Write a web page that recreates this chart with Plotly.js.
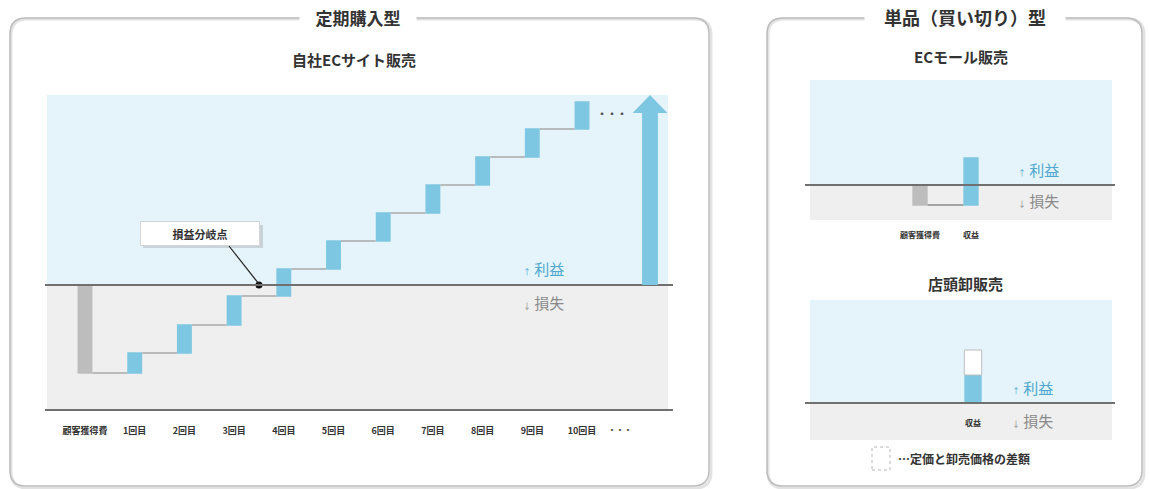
<!DOCTYPE html>
<html><head><meta charset="utf-8">
<script src="https://cdn.plot.ly/plotly-3.0.1.min.js"></script>
<style>html,body{margin:0;padding:0;background:#fff;overflow:hidden}#chart{width:1150px;height:489px}</style>
</head><body><div id="chart"></div>
<script>
// ---------- data ----------
const subCategories = ['顧客獲得費','1回目','2回目','3回目','4回目','5回目','6回目','7回目','8回目','9回目','10回目'];
const subValues = [-8.8, 2.0, 2.8, 2.9, 2.7, 2.8, 2.8, 2.8, 2.8, 2.8, 2.7];
const breakEvenX = 3.5;
const mallCategories = ['顧客獲得費','収益'];
const mallValues = [-2.0, 4.7];
const storeCategories = ['収益'];
const storeRevenue = [2.8];
const storeDiscount = [2.5];

// ---------- helpers ----------
const W = 1150, H = 489;
const FONT = '"Noto Sans CJK JP", "Noto Sans", sans-serif';
const px = v => v / W;
const py = v => 1 - v / H;
const BLUE = '#7dc7e2', BLUEBG = '#e5f4fa', GRAYBG = '#efefef', GRAYBAR = '#bdbdbd';
const LINE = '#707070', TXT = '#333333', PROFIT = '#4ea8cf', LOSS = '#8a8a8a';

function roundRect(x0, y0, x1, y1, r) {
  const X = v => px(v).toFixed(5), Y = v => py(v).toFixed(5);
  return `M ${X(x0 + r)},${Y(y0)} L ${X(x1 - r)},${Y(y0)} Q ${X(x1)},${Y(y0)} ${X(x1)},${Y(y0 + r)} ` +
    `L ${X(x1)},${Y(y1 - r)} Q ${X(x1)},${Y(y1)} ${X(x1 - r)},${Y(y1)} L ${X(x0 + r)},${Y(y1)} ` +
    `Q ${X(x0)},${Y(y1)} ${X(x0)},${Y(y1 - r)} L ${X(x0)},${Y(y0 + r)} Q ${X(x0)},${Y(y0)} ${X(x0 + r)},${Y(y0)} Z`;
}

// axis geometry (pixels)
const A1 = {x0: 47, x1: 668, y0: 95, y1: 410, c0: 85, step: 49.7, zero: 285};
const A2 = {x0: 810, x1: 1112, y0: 80, y1: 220, c0: 920, step: 51, zero: 185};
const A3 = {x0: 810, x1: 1112, y0: 300, y1: 440, c0: 973, step: 51, zero: 403};
const UNIT = 10; // pixels per data unit
const xr = a => [(a.x0 - a.c0) / a.step, (a.x1 - a.c0) / a.step];
const yr = a => [-(a.y1 - a.zero) / UNIT, (a.zero - a.y0) / UNIT];

const traces = [
  {
    type: 'waterfall', xaxis: 'x', yaxis: 'y',
    x: subCategories.map((_, i) => i), y: subValues,
    measure: subValues.map(() => 'relative'),
    width: 0.3, textinfo: 'none', hoverinfo: 'skip',
    increasing: {marker: {color: BLUE, line: {width: 0}}},
    decreasing: {marker: {color: GRAYBAR, line: {width: 0}}},
    connector: {line: {color: '#a9a9a9', width: 1.5}}
  },
  {
    type: 'waterfall', xaxis: 'x2', yaxis: 'y2',
    x: mallCategories.map((_, i) => i), y: mallValues,
    measure: mallValues.map(() => 'relative'),
    width: 0.3, textinfo: 'none', hoverinfo: 'skip',
    increasing: {marker: {color: BLUE, line: {width: 0}}},
    decreasing: {marker: {color: GRAYBAR, line: {width: 0}}},
    connector: {line: {color: '#8a8a8a', width: 1.5}}
  },
  {
    type: 'bar', xaxis: 'x3', yaxis: 'y3',
    x: storeCategories.map((_, i) => i), y: storeRevenue, base: storeRevenue.map(() => 0),
    width: 0.34, marker: {color: BLUE, line: {width: 0}}, hoverinfo: 'skip'
  },
  {
    type: 'bar', xaxis: 'x3', yaxis: 'y3',
    x: storeCategories.map((_, i) => i), y: storeDiscount, base: storeRevenue,
    width: 0.34, marker: {color: '#ffffff', line: {color: '#bdbdbd', width: 1}}, hoverinfo: 'skip'
  },
  {
    type: 'scatter', mode: 'markers', xaxis: 'x', yaxis: 'y',
    x: [breakEvenX], y: [0], marker: {color: '#111', size: 7}, hoverinfo: 'skip'
  }
];

const baseX = {showgrid: false, zeroline: false, showline: false, fixedrange: true};
const baseY = {showgrid: false, zeroline: false, showline: false, showticklabels: false, fixedrange: true};

function bgShapes(xa, ya, a) {
  return [
    {type: 'rect', xref: xa + ' domain', yref: ya, x0: 0, x1: 1, y0: 0, y1: yr(a)[1], fillcolor: BLUEBG, line: {width: 0}, layer: 'below'},
    {type: 'rect', xref: xa + ' domain', yref: ya, x0: 0, x1: 1, y0: yr(a)[0], y1: 0, fillcolor: GRAYBG, line: {width: 0}, layer: 'below'}
  ];
}

// growth arrow at right of the subscription chart
const arrowX = (650 - A1.c0) / A1.step, arrowTop = yr(A1)[1];
const arrowPath = `M ${arrowX - 0.16},0 L ${arrowX - 0.16},${arrowTop - 1.8} L ${arrowX - 0.35},${arrowTop - 1.8} ` +
  `L ${arrowX},${arrowTop} L ${arrowX + 0.35},${arrowTop - 1.8} L ${arrowX + 0.16},${arrowTop - 1.8} L ${arrowX + 0.16},0 Z`;

const shapes = [
  // panel shadows + borders
  {type: 'path', xref: 'paper', yref: 'paper', path: roundRect(11, 19, 711, 488, 16), line: {color: '#e2e2e2', width: 3}},
  {type: 'path', xref: 'paper', yref: 'paper', path: roundRect(10, 18, 709, 486, 16), line: {color: '#bdbdbd', width: 1.5}},
  {type: 'path', xref: 'paper', yref: 'paper', path: roundRect(768, 19, 1144, 488, 16), line: {color: '#e2e2e2', width: 3}},
  {type: 'path', xref: 'paper', yref: 'paper', path: roundRect(767, 18, 1142, 486, 16), line: {color: '#bdbdbd', width: 1.5}},
  ...bgShapes('x', 'y', A1), ...bgShapes('x2', 'y2', A2), ...bgShapes('x3', 'y3', A3),
  // zero lines and bottom axis line
  {type: 'line', xref: 'paper', yref: 'y', x0: px(45), x1: px(673), y0: 0, y1: 0, line: {color: LINE, width: 2}},
  {type: 'line', xref: 'paper', yref: 'paper', x0: px(45), x1: px(673), y0: py(410), y1: py(410), line: {color: LINE, width: 2}},
  {type: 'line', xref: 'paper', yref: 'y2', x0: px(805), x1: px(1115), y0: 0, y1: 0, line: {color: LINE, width: 2}},
  {type: 'line', xref: 'paper', yref: 'y3', x0: px(805), x1: px(1115), y0: 0, y1: 0, line: {color: LINE, width: 2}},
  // growth arrow
  {type: 'path', xref: 'x', yref: 'y', path: arrowPath, fillcolor: BLUE, line: {width: 0}},
  // callout shadow and leader line
  {type: 'rect', xref: 'paper', yref: 'paper', x0: px(143), x1: px(263), y0: py(248), y1: py(225), fillcolor: 'rgba(150,150,150,0.35)', line: {width: 0}},
  {type: 'line', xref: 'paper', yref: 'paper', x0: px(229), y0: py(246), x1: px(259), y1: py(284), line: {color: '#222', width: 1.2}},
  // legend swatch
  {type: 'rect', xref: 'paper', yref: 'paper', x0: px(872), x1: px(890), y0: py(470), y1: py(447), fillcolor: '#fff', line: {color: '#b5b5b5', width: 1, dash: 'dot'}}
];

const arrowSpan = s => `<span style="font-size:8px">${s}</span>`;
function pl(x, yUp, yDown) {
  return [
    {x: px(x), y: py(yUp), xref: 'paper', yref: 'paper', xanchor: 'left', yanchor: 'middle', showarrow: false,
      text: arrowSpan('↑') + ' 利益', font: {family: FONT, size: 15, color: PROFIT}},
    {x: px(x), y: py(yDown), xref: 'paper', yref: 'paper', xanchor: 'left', yanchor: 'middle', showarrow: false,
      text: arrowSpan('↓') + ' 損失', font: {family: FONT, size: 15, color: LOSS}}
  ];
}

const annotations = [
  {x: px(358), y: py(17), xref: 'paper', yref: 'paper', showarrow: false, text: '<b>定期購入型</b>', bgcolor: '#fff', width: 114, height: 24,
    font: {family: FONT, size: 17, color: TXT}},
  {x: px(354), y: py(60), xref: 'paper', yref: 'paper', showarrow: false, text: '<b>自社ECサイト販売</b>',
    font: {family: FONT, size: 15, color: TXT}},
  {x: px(965), y: py(17), xref: 'paper', yref: 'paper', showarrow: false, text: '<b>単品（買い切り）型</b>', bgcolor: '#fff', width: 198, height: 24,
    font: {family: FONT, size: 18, color: TXT}},
  {x: px(961), y: py(56), xref: 'paper', yref: 'paper', showarrow: false, text: '<b>ECモール販売</b>',
    font: {family: FONT, size: 15, color: TXT}},
  {x: px(965), y: py(283), xref: 'paper', yref: 'paper', showarrow: false, text: '<b>店頭卸販売</b>',
    font: {family: FONT, size: 15, color: TXT}},
  {x: px(200), y: py(233), xref: 'paper', yref: 'paper', showarrow: false, text: '<b>損益分岐点</b>', bgcolor: '#fff',
    bordercolor: '#d5d5d5', borderwidth: 1, width: 116, height: 21, font: {family: FONT, size: 11, color: TXT}},
  {x: px(612), y: py(113), xref: 'paper', yref: 'paper', showarrow: false, text: '<b>・・・</b>',
    font: {family: FONT, size: 10, color: '#444'}},
  {x: px(620), y: py(429), xref: 'paper', yref: 'paper', showarrow: false, text: '<b>・・・</b>',
    font: {family: FONT, size: 8, color: '#444'}},
  {x: 0, y: py(422), xref: 'x3', yref: 'paper', showarrow: false, text: '<b>' + storeCategories[0] + '</b>',
    font: {family: FONT, size: 8, color: TXT}},
  {x: px(896), y: py(458), xref: 'paper', yref: 'paper', xanchor: 'left', showarrow: false, text: '<b>…定価と卸売価格の差額</b>',
    font: {family: FONT, size: 12, color: TXT}},
  ...pl(521, 268, 302), ...pl(1016, 170, 200), ...pl(1010, 387, 420)
].map(a => ({xanchor: 'center', yanchor: 'middle', ...a}));

const tickFont = {family: FONT, size: 9, color: TXT};
const layout = {
  width: W, height: H, margin: {l: 0, r: 0, t: 0, b: 0},
  paper_bgcolor: '#fff', plot_bgcolor: 'rgba(0,0,0,0)', showlegend: false, barmode: 'overlay',
  xaxis: {...baseX, anchor: 'y', domain: [px(A1.x0), px(A1.x1)], range: xr(A1),
    tickvals: subCategories.map((_, i) => i), ticktext: subCategories.map(s => '<b>' + s + '</b>'),
    ticks: 'outside', ticklen: 12, tickcolor: 'rgba(0,0,0,0)', tickfont: tickFont},
  yaxis: {...baseY, anchor: 'x', domain: [py(A1.y1), py(A1.y0)], range: yr(A1)},
  xaxis2: {...baseX, anchor: 'y2', domain: [px(A2.x0), px(A2.x1)], range: xr(A2),
    tickvals: mallCategories.map((_, i) => i), ticktext: mallCategories.map(s => '<b>' + s + '</b>'),
    ticks: 'outside', ticklen: 7, tickcolor: 'rgba(0,0,0,0)', tickfont: {...tickFont, size: 8}},
  yaxis2: {...baseY, anchor: 'x2', domain: [py(A2.y1), py(A2.y0)], range: yr(A2)},
  xaxis3: {...baseX, anchor: 'y3', domain: [px(A3.x0), px(A3.x1)], range: xr(A3), showticklabels: false},
  yaxis3: {...baseY, anchor: 'x3', domain: [py(A3.y1), py(A3.y0)], range: yr(A3)},
  shapes, annotations
};

Plotly.newPlot('chart', traces, layout, {staticPlot: true, displayModeBar: false});
</script></body></html>
